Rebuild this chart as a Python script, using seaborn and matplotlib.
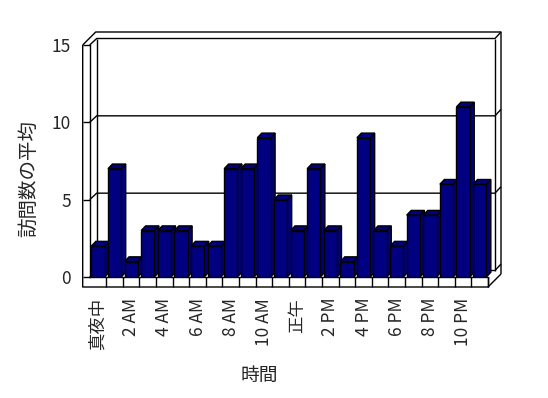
''' average visits per hour, drawn as a 3D-style bar chart '''
import matplotlib
matplotlib.use('Agg')
import matplotlib.pyplot as plt
from matplotlib.patches import Polygon
import seaborn as sns
import pandas as pd

hours = list(range(24))
visits = [2, 7, 1, 3, 3, 3, 2, 2, 7, 7, 9, 5, 3, 7, 3, 1, 9, 3, 2, 4, 4, 6, 11, 6]
hour_labels = ['真夜中', '2 AM', '4 AM', '6 AM', '8 AM', '10 AM',
               '正午', '2 PM', '4 PM', '6 PM', '8 PM', '10 PM']
y_ticks = [0, 5, 10, 15]

W, H = 548, 398
left_px, right_px, bottom_px, top_px = 89.7, 488, 277, 45
NAVY = '#000080'

sns.set_style('white')
plt.rcParams['font.family'] = ['Noto Sans CJK JP', 'DejaVu Sans']

fig = plt.figure(figsize=(W / 100, H / 100), dpi=100)
ax = fig.add_axes([left_px / W, 1 - bottom_px / H,
                   (right_px - left_px) / W, (bottom_px - top_px) / H])

df = pd.DataFrame({'hour': hours, 'visits': visits})
sns.barplot(data=df, x='hour', y='visits', color=NAVY, saturation=1,
            width=0.8, edgecolor='black', linewidth=1, ax=ax)
ax.set_xlim(-0.5, 23.5)
ax.set_ylim(0, 15)

# pixel -> data units
sx = 24 / (right_px - left_px)
sy = 15 / (bottom_px - top_px)

# top and side faces of each bar
bx, by = 4.5 * sx, 4.7 * sy
for i, p in enumerate(ax.patches):
    x0, w, h = p.get_x(), p.get_width(), p.get_height()
    z = 3 + i * 0.01
    side = [(x0 + w, 0), (x0 + w + bx, by), (x0 + w + bx, h + by), (x0 + w, h)]
    top = [(x0, h), (x0 + w, h), (x0 + w + bx, h + by), (x0 + bx, h + by)]
    for poly in (side, top):
        ax.add_patch(Polygon(poly, closed=True, fc=NAVY, ec='black', lw=1,
                             zorder=z, clip_on=False))
    p.set_zorder(z + 0.005)

# walls and floor
d1x, d1y = 7 * sx, 6.5 * sy
d2x, d2y = 13 * sx, 13 * sy
xl, xr, ytop = -0.5, 23.5, y_ticks[-1]
wall = 7 * sx
floor = 10 * sy


def seg(xs, ys):
    ax.plot(xs, ys, color='black', lw=1, clip_on=False, zorder=1,
            solid_capstyle='butt')


for yv in y_ticks:
    seg([xl, xl + d1x, xr + d1x, xr + d2x], [yv, yv + d1y, yv + d1y, yv + d2y])
seg([xl + d1x, xl + d1x], [d1y, ytop + d1y])
seg([xr + d1x, xr + d1x], [d1y, ytop + d1y])
seg([xl - wall, xl - wall + d2x, xr + d2x, xr + d2x],
    [ytop, ytop + d2y, ytop + d2y, -floor + d2y])
seg([xl - wall, xl - wall, xr, xr + d2x],
    [ytop, -floor, -floor, -floor + d2y])
seg([xr, xr], [0, -floor])

# axes styling
for s in ('top', 'right'):
    ax.spines[s].set_visible(False)
for s in ('left', 'bottom'):
    ax.spines[s].set_color('black')
    ax.spines[s].set_linewidth(1)

ax.set_yticks(y_ticks)
ax.set_yticklabels([str(v) for v in y_ticks], fontsize=12.5)
ax.tick_params(axis='y', left=True, length=5.04, width=1, pad=8.6,
               direction='out', color='black')
ax.set_xticks(hours[::2])
ax.set_xticklabels(hour_labels, rotation=90, fontsize=12.5)
ax.set_xticks([h + 0.5 for h in hours], minor=True)
ax.tick_params(axis='x', which='major', bottom=True, length=0, pad=15)
ax.tick_params(axis='x', which='minor', bottom=True, length=7.2, width=1,
               direction='out', color='black')
ax.set_xlabel('')
ax.set_ylabel('')

fig.text(259 / W, 1 - 375 / H, '時間', ha='center', va='center', fontsize=13.5)
fig.text(29 / W, 1 - 178 / H, '訪問数の平均', ha='center', va='center',
         rotation=90, fontsize=14)

fig.savefig('out.png', dpi=100)
